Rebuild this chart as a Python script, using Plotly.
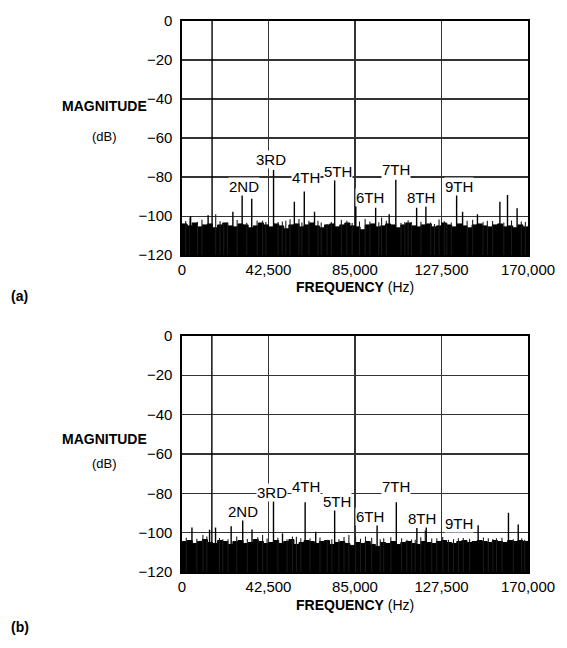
import plotly.graph_objects as go

# ---------------- data ----------------
x_tick_vals = [0, 42500, 85000, 127500, 170000]
x_tick_text = ["0", "42,500", "85,000", "127,500", "170,000"]
y_tick_vals = [-120, -100, -80, -60, -40, -20, 0]
y_tick_text = ["\u2212120", "\u2212100", "\u221280", "\u221260", "\u221240", "\u221220", "0"]

harm_labels = ["2ND", "3RD", "4TH", "5TH", "6TH", "7TH", "8TH", "9TH"]

# panel (a): spurs / harmonics (Hz, dB)
spur_freq_a = [4230, 12830, 14780, 25000, 29550, 34260, 44980, 55200, 60080, 65110,
               75010, 85400, 95150, 101800, 105050, 115280, 119830, 134930, 137850,
               145160, 156200, 159930, 164640]
spur_db_a = [-100, -99.5, 0, -97.8, -89.2, -91.1, -76.3, -92.6, -87.4, -97.8,
             -81.4, -94, -95.7, -99, -81.4, -95.7, -94.9, -89, -97.8,
             -99, -92.6, -89.2, -96]
grass_freq_a = [3900, 16560, 39600, 51000, 57480, 62350, 71260, 81000, 89970, 98060,
                109450, 112680, 124050, 150030, 168700, 20500, 47200, 68400, 92300, 130100,
                1800, 7600, 9800, 18700, 22400, 27100, 31800, 36900, 41200, 49300,
                53100, 58900, 66800, 73400, 78300, 83600, 87200, 96700, 100400, 107600,
                111100, 117400, 122200, 126300, 128900, 132300, 140100, 142800, 147900, 152600,
                158100, 161900, 166700]
grass_db_a = [-100.7, -99, -102.4, -102.4, -101.5, -102.4, -104, -102.4, -101.5, -100.7,
              -103, -103, -104, -102.4, -103, -103.5, -103, -103.2, -102.8, -103.6,
              -102.5, -103, -101.8, -102.6, -103.2, -102, -103.4, -102.2, -103, -102.8,
              -101.6, -103.2, -102.4, -103, -101.9, -103.5, -102.7, -103.1, -102.3, -103.4,
              -102.1, -102.9, -103.3, -101.7, -102.6, -103.2, -102.4, -101.9, -103, -102.5,
              -103.3, -102.2, -102.8]
floor_a = [-104, -105, -103.5, -105.5, -104.5, -104, -106, -104.5, -103.5, -105,
           -105.5, -104, -104.5, -106, -105, -103.5, -104.5, -105.5, -104, -105,
           -106.5, -104.5, -104, -105.5, -104.5, -103.5, -105, -106, -104.5, -104,
           -105.5, -104.5, -103.5, -105, -105.5, -107, -104.5, -104, -105.5, -105,
           -104, -104.5, -106, -104.5, -103.5, -105, -105.5, -104.5, -104, -105.5,
           -105, -103.5, -104.5, -105.5, -104, -105, -106, -104.5, -104, -105,
           -105.5, -104.5, -104, -105.5, -105, -106, -104.5, -105.5, -106]
label_freq_a = [30690, 43680, 60740, 76600, 92370, 105050, 117560, 136230]
label_db_a = [-84.7, -71.2, -80, -77.1, -90.3, -76, -90.3, -84.7]

# panel (b)
spur_freq_b = [4890, 13540, 14670, 16480, 24150, 29830, 34400, 44950, 49380, 60500,
               65700, 75000, 95860, 105300, 115400, 120000, 145500, 160400, 165200]
spur_db_b = [-97.4, -98.5, 0, -97.4, -96.7, -92.6, -98.4, -83.6, -100.4, -84.5,
             -99.5, -87.5, -95.9, -84.5, -97.6, -95.9, -96.2, -89.9, -95.9]
grass_freq_b = [10270, 20050, 39600, 54270, 58370, 71380, 77100, 82000, 85270, 90160,
                99100, 110500, 114600, 119500, 125200, 130900, 135800, 150500, 154500, 168400,
                2100, 7300, 12200, 18400, 22600, 26900, 32100, 37200, 41800, 47100,
                51600, 56200, 62900, 67800, 73600, 79600, 87700, 93200, 97400, 102600,
                107900, 112800, 117300, 122700, 128100, 133400, 138200, 141300, 148100, 152700,
                157200, 162800, 166900]
grass_db_b = [-101.2, -103.4, -101.2, -102, -102.8, -103.6, -103.4, -101.2, -102, -102,
              -102.8, -103.6, -103.6, -98.9, -102.8, -103.6, -102.8, -102.8, -102.8, -103.6,
              -102.6, -103.1, -102, -102.7, -103.3, -101.9, -103.2, -102.4, -103, -102.6,
              -103.4, -102.1, -103, -102.5, -103.3, -102.2, -103.1, -102.6, -103.4, -102.3,
              -102.9, -103.5, -102.4, -103, -102.2, -103.3, -102.7, -103.1, -102.5, -103.2,
              -102.6, -103.4, -102.8]
floor_b = [-104.5, -104, -105.5, -104.5, -103.5, -105, -105.5, -104, -104.5, -106,
           -104.5, -104, -105.5, -105, -103.5, -104.5, -105.5, -105, -104, -105.5,
           -104.5, -103.5, -106, -105, -104, -104.5, -105.5, -104.5, -104, -106,
           -105, -104.5, -105.5, -106.5, -105, -105.5, -104.5, -106, -107, -105,
           -105.5, -104.5, -106, -105, -104.5, -105.5, -106, -104.5, -105, -105.5,
           -104.5, -104, -105, -105.5, -104.5, -104, -105, -104.5, -104, -104.5,
           -105, -104, -104.5, -105, -104, -104.5, -104, -104.5, -105]
label_freq_b = [30170, 44200, 60820, 76280, 92600, 105300, 117800, 136300]
label_db_b = [-89.2, -79.4, -76.6, -84.1, -92, -76.6, -92.9, -95.4]

FLOOR_STEP = 2500  # Hz between noise-floor readings

# ---------------- figure ----------------
W, H = 567, 648
ML, MR, MT, MB = 182, 36, 12, 76
PW, PH = W - ML - MR, H - MT - MB


def px(x):
    return (x - ML) / PW


def py(y):
    return (H - MB - y) / PH


FONT = "Liberation Sans, Arial, Helvetica, sans-serif"
fig = go.Figure()


def add_panel(xa, ya, floor, sf, sd, gf, gd):
    ffreq = [i * FLOOR_STEP for i in range(len(floor))]
    fx = [0] + ffreq + [ffreq[-1]] + [ffreq[-1]]
    fy = [-120] + floor + [floor[-1]] + [-120]
    fig.add_trace(go.Scatter(x=fx, y=fy, mode="lines", line=dict(color="black", width=1, shape="hv"),
                             fill="toself", fillcolor="black", xaxis=xa, yaxis=ya,
                             hoverinfo="skip", showlegend=False))
    gx, gy = [], []
    for f, d in zip(gf, gd):
        gx += [f, f, None]
        gy += [-120, d, None]
    fig.add_trace(go.Scatter(x=gx, y=gy, mode="lines", line=dict(color="#1a1a1a", width=1.1),
                             xaxis=xa, yaxis=ya, hoverinfo="skip", showlegend=False))
    lx, ly = [], []
    for f, d in zip(sf, sd):
        lx += [f, f, None]
        ly += [-120, d, None]
    fig.add_trace(go.Scatter(x=lx, y=ly, mode="lines", line=dict(color="black", width=1.4),
                             xaxis=xa, yaxis=ya, hoverinfo="skip", showlegend=False))


add_panel("x", "y", floor_a, spur_freq_a, spur_db_a, grass_freq_a, grass_db_a)
add_panel("x2", "y2", floor_b, spur_freq_b, spur_db_b, grass_freq_b, grass_db_b)

ax_common = dict(range=[0, 170000], tickvals=x_tick_vals, ticktext=x_tick_text,
                 showgrid=True, gridcolor="#333", gridwidth=1.3, zeroline=False,
                 showline=True, linecolor="black", linewidth=1.6, mirror=True,
                 ticks="", tickfont=dict(family=FONT, size=15, color="black"))
ay_common = dict(range=[-120, 0], tickvals=y_tick_vals, ticktext=y_tick_text,
                 showgrid=True, gridcolor="#333", gridwidth=1.3, zeroline=False,
                 showline=True, linecolor="black", linewidth=1.6, mirror=True,
                 ticks="", ticklabelstandoff=5, tickfont=dict(family=FONT, size=15, color="black"))

top_a, bot_a = 12, 250
top_b, bot_b = 332, 572

fig.update_layout(
    width=W, height=H, autosize=False,
    margin=dict(l=ML, r=MR, t=MT, b=MB),
    paper_bgcolor="white", plot_bgcolor="white",
    showlegend=False,
    xaxis=dict(ax_common, domain=[0, 1], anchor="y"),
    yaxis=dict(ay_common, domain=[py(bot_a), py(top_a)], anchor="x"),
    xaxis2=dict(ax_common, domain=[0, 1], anchor="y2"),
    yaxis2=dict(ay_common, domain=[py(bot_b), py(top_b)], anchor="x2"),
)

ann = []
for lab, f, d in zip(harm_labels, label_freq_a, label_db_a):
    ann.append(dict(x=f, y=d, xref="x", yref="y", text=lab, showarrow=False,
                    bgcolor="white", borderpad=0, font=dict(family=FONT, size=15, color="black")))
for lab, f, d in zip(harm_labels, label_freq_b, label_db_b):
    ann.append(dict(x=f, y=d, xref="x2", yref="y2", text=lab, showarrow=False,
                    bgcolor="white", borderpad=0, font=dict(family=FONT, size=15, color="black")))


def txt(text, x, y, xanchor="center", size=14):
    ann.append(dict(x=px(x), y=py(y), xref="paper", yref="paper", text=text, showarrow=False,
                    xanchor=xanchor, yanchor="middle", font=dict(family=FONT, size=size, color="black")))


txt("<b>MAGNITUDE</b>", 104, 98)
txt("(dB)", 104, 129, size=13)
txt("<b>MAGNITUDE</b>", 104, 437)
txt("(dB)", 104, 462, size=13)
txt("<b>FREQUENCY</b> (Hz)", 357, 282)
txt("<b>FREQUENCY</b> (Hz)", 357, 606)
txt("<b>(a)</b>", 8, 291, xanchor="left")
txt("<b>(b)</b>", 8, 628, xanchor="left")

fig.update_layout(annotations=ann)
fig.write_html("out.html", config={"displayModeBar": False, "staticPlot": True},
               post_script="document.body.style.margin='0';document.body.style.overflow='hidden';")
